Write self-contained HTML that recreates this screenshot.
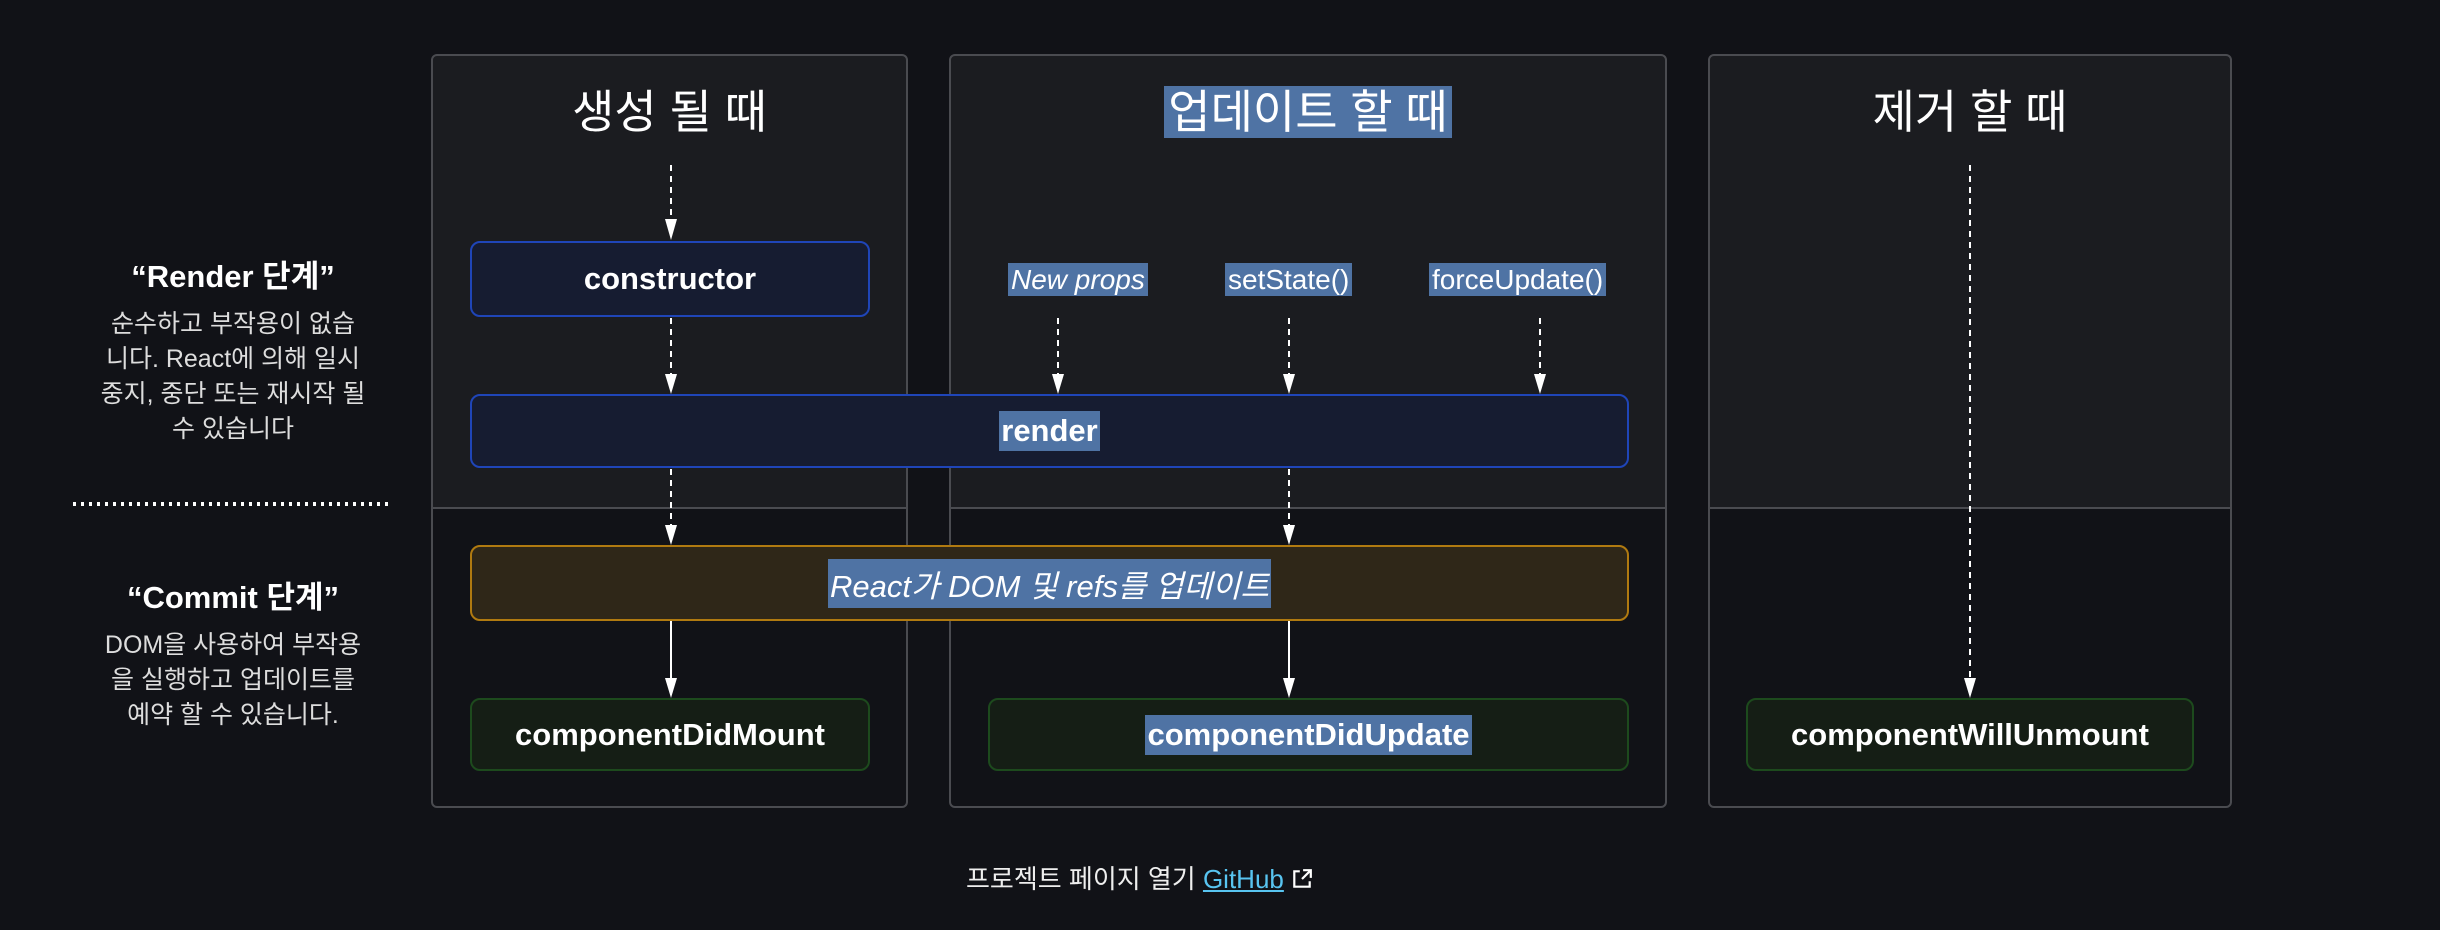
<!DOCTYPE html>
<html><head><meta charset="utf-8"><style>
body{margin:0;width:2440px;height:930px;background:#111217;overflow:hidden;font-family:"Liberation Sans","Noto Sans CJK KR",sans-serif;color:#fff;position:relative}
.a{position:absolute}
.col{position:absolute;top:54px;height:754px;border:2px solid #4a4b50;border-radius:6px;box-sizing:border-box;background:linear-gradient(#1b1c20 0,#1b1c20 451px,#4a4b50 451px,#4a4b50 453px,#111217 453px)}
.title{position:absolute;top:82px;font-size:46px;text-align:center;line-height:60px}
.box{position:absolute;box-sizing:border-box;border-radius:10px;display:flex;align-items:center;justify-content:center;font-weight:bold;font-size:31px}
.blue{background:#161c31;border:2px solid #1f45b8}
.green{background:#151e15;border:2px solid #1d4a1d}
.orange{background:#2f2718;border:2px solid #b07a10;font-weight:normal;font-style:italic}
.hl{background:#4f73a4}
.lbl{position:absolute;top:263px;height:33px;font-size:28px;line-height:33px;white-space:nowrap}
.side{position:absolute;left:53px;width:360px;text-align:center}
.side h3{margin:0;font-size:31px;font-weight:bold;line-height:40px}
.side p{margin:10px 0 0;font-size:25px;line-height:35px;color:#ddd;white-space:nowrap}
</style></head><body>
<div class="col" style="left:431px;width:477px"></div>
<div class="col" style="left:949px;width:718px"></div>
<div class="col" style="left:1708px;width:524px"></div>

<div class="title" style="left:431px;width:477px">생성 될 때</div>
<div class="title" style="left:949px;width:718px"><span class="hl" style="padding:0 4px">업데이트 할 때</span></div>
<div class="title" style="left:1708px;width:524px">제거 할 때</div>

<svg class="a" style="left:0;top:0" width="2440" height="930">
<g stroke="#fff" stroke-width="2" stroke-dasharray="6,5" fill="none">
<line x1="671" y1="165" x2="671" y2="220"/>
<line x1="671" y1="318" x2="671" y2="380"/>
<line x1="671" y1="469" x2="671" y2="530"/>
<line x1="1058" y1="318" x2="1058" y2="380"/>
<line x1="1289" y1="318" x2="1289" y2="380"/>
<line x1="1540" y1="318" x2="1540" y2="380"/>
<line x1="1289" y1="469" x2="1289" y2="530"/>
<line x1="1970" y1="165" x2="1970" y2="682"/>
</g>
<g stroke="#fff" stroke-width="2">
<line x1="671" y1="621" x2="671" y2="684"/>
<line x1="1289" y1="621" x2="1289" y2="684"/>
</g>
<g fill="#fff">
<path d="M665,219 L677,219 L671,240 Z"/>
<path d="M665,374 L677,374 L671,394 Z"/>
<path d="M665,525 L677,525 L671,545 Z"/>
<path d="M665,678 L677,678 L671,698 Z"/>
<path d="M1052,374 L1064,374 L1058,394 Z"/>
<path d="M1283,374 L1295,374 L1289,394 Z"/>
<path d="M1534,374 L1546,374 L1540,394 Z"/>
<path d="M1283,525 L1295,525 L1289,545 Z"/>
<path d="M1283,678 L1295,678 L1289,698 Z"/>
<path d="M1964,678 L1976,678 L1970,698 Z"/>
</g>
<line x1="73" y1="504" x2="389" y2="504" stroke="#fff" stroke-width="4" stroke-dasharray="3,5"/>
</svg>

<div class="box blue" style="left:470px;top:241px;width:400px;height:76px">constructor</div>
<div class="box blue" style="left:470px;top:394px;width:1159px;height:74px"><span class="hl" style="padding:2px 2px">render</span></div>
<div class="box orange" style="left:470px;top:545px;width:1159px;height:76px"><span class="hl" style="padding:2px 2px">React가 DOM 및 refs를 업데이트</span></div>
<div class="box green" style="left:470px;top:698px;width:400px;height:73px">componentDidMount</div>
<div class="box green" style="left:988px;top:698px;width:641px;height:73px"><span class="hl" style="padding:2px 2px">componentDidUpdate</span></div>
<div class="box green" style="left:1746px;top:698px;width:448px;height:73px">componentWillUnmount</div>

<div class="lbl hl" style="left:1008px;font-style:italic;padding:0 3px">New props</div>
<div class="lbl hl" style="left:1225px;padding:0 3px">setState()</div>
<div class="lbl hl" style="left:1429px;padding:0 3px">forceUpdate()</div>

<div class="side" style="top:257px"><h3>“Render 단계”</h3><p>순수하고 부작용이 없습<br>니다. React에 의해 일시<br>중지, 중단 또는 재시작 될<br>수 있습니다</p></div>
<div class="side" style="top:578px"><h3>“Commit 단계”</h3><p>DOM을 사용하여 부작용<br>을 실행하고 업데이트를<br>예약 할 수 있습니다.</p></div>

<div class="a" style="left:966px;top:862px;font-size:26px;line-height:34px;color:#eee;white-space:nowrap">프로젝트 페이지 열기 <span style="color:#58c4f0;text-decoration:underline">GitHub</span> <svg width="22" height="22" viewBox="0 0 20 20" style="vertical-align:-2px"><path d="M8 3H3v14h14v-5" fill="none" stroke="#fff" stroke-width="2"/><path d="M11 2h7v7M18 2l-8 8" fill="none" stroke="#fff" stroke-width="2"/></svg></div>
</body></html>
